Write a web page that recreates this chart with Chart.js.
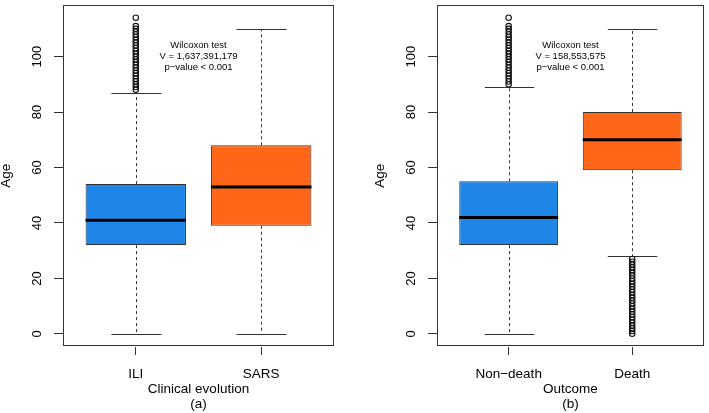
<!DOCTYPE html>
<html>
<head>
<meta charset="utf-8">
<script src="https://cdn.jsdelivr.net/npm/chart.js@4.4.1/dist/chart.umd.min.js"></script>
<style>
    html, body { margin: 0; padding: 0; background: #fff; overflow: hidden; }
    canvas { position: absolute; top: 0; }
    #panelA { left: 0; }
    #panelB { left: 374px; }
</style>
</head>
<body>
<canvas id="panelA" width="374" height="413"></canvas>
<canvas id="panelB" width="335" height="413"></canvas>
<script>
(function () {
    "use strict";

    const FONT = "'Liberation Sans', Arial, Helvetica, sans-serif";
    const BLUE = "#1f86e7";
    const ORANGE = "#ff6618";
    const INK = "#333";

    const yTicks = [0, 20, 40, 60, 80, 100];
    const positions = [1, 2];

    // panel (a) - clinical evolution
    const groupsA = ["ILI", "SARS"];
    const lowerA = [0, 0];
    const q1A = [32, 39];
    const medianA = [41, 53];
    const q3A = [54, 68];
    const upperA = [87, 110];
    const outliersA = [
        [88, 89, 90, 91, 92, 93, 94, 95, 96, 97, 98, 99, 100, 101, 102, 103, 104, 105, 106, 107, 108, 109, 110, 111, 114],
        []
    ];
    const noteA = ["Wilcoxon test", "V = 1,637,391,179", "p\u2212value < 0.001"];

    // panel (b) - outcome
    const groupsB = ["Non\u2212death", "Death"];
    const lowerB = [0, 28];
    const q1B = [32, 59];
    const medianB = [42, 70];
    const q3B = [55, 80];
    const upperB = [89, 110];
    const outliersB = [
        [90, 91, 92, 93, 94, 95, 96, 97, 98, 99, 100, 101, 102, 103, 104, 105, 106, 107, 108, 109, 110, 111, 114],
        [0, 1, 2, 3, 4, 5, 6, 7, 8, 9, 10, 11, 12, 13, 14, 15, 16, 17, 18, 19, 20, 21, 22, 23, 24, 25, 26, 27]
    ];
    const noteB = ["Wilcoxon test", "V = 158,553,575", "p\u2212value < 0.001"];

    const notePos = [1.5, 100];

    function boxExtras(p) {
        return {
            id: "boxExtras",
            beforeDatasetsDraw(chart) {
                const { ctx, scales: { x, y } } = chart;
                const bars = chart.getDatasetMeta(0).data;
                ctx.save();
                ctx.strokeStyle = INK;
                ctx.lineWidth = 1;
                positions.forEach((pos, i) => {
                    const px = Math.round(x.getPixelForValue(pos)) + 0.5;
                    const half = bars[i].width / 4;
                    ctx.setLineDash([3, 3]);
                    ctx.beginPath();
                    ctx.moveTo(px, y.getPixelForValue(p.q3[i]));
                    ctx.lineTo(px, y.getPixelForValue(p.upper[i]));
                    ctx.moveTo(px, y.getPixelForValue(p.q1[i]));
                    ctx.lineTo(px, y.getPixelForValue(p.lower[i]));
                    ctx.stroke();
                    ctx.setLineDash([]);
                    ctx.beginPath();
                    [p.upper[i], p.lower[i]].forEach((v) => {
                        const py = Math.round(y.getPixelForValue(v)) + 0.5;
                        ctx.moveTo(px - half, py);
                        ctx.lineTo(px + half, py);
                    });
                    ctx.stroke();
                });
                ctx.restore();
            },
            afterDatasetsDraw(chart) {
                const { ctx, chartArea: a, scales: { x, y } } = chart;
                const bars = chart.getDatasetMeta(0).data;
                ctx.save();
                // medians
                ctx.strokeStyle = "#000";
                ctx.lineWidth = 3;
                positions.forEach((pos, i) => {
                    const py = y.getPixelForValue(p.median[i]);
                    ctx.beginPath();
                    ctx.moveTo(bars[i].x - bars[i].width / 2, py);
                    ctx.lineTo(bars[i].x + bars[i].width / 2, py);
                    ctx.stroke();
                });
                // frame
                ctx.strokeStyle = INK;
                ctx.lineWidth = 1;
                ctx.strokeRect(Math.round(a.left) + 0.5, Math.round(a.top) + 0.5,
                    Math.round(a.right - a.left) - 1, Math.round(a.bottom - a.top) - 1);
                // rotated y tick labels
                ctx.fillStyle = "#000";
                ctx.font = "13px " + FONT;
                ctx.textAlign = "center";
                ctx.textBaseline = "middle";
                y.ticks.forEach((t) => {
                    ctx.save();
                    ctx.translate(a.left - 25.5, y.getPixelForValue(t.value));
                    ctx.rotate(-Math.PI / 2);
                    ctx.fillText(String(t.value), 0, 0);
                    ctx.restore();
                });
                // test note
                ctx.font = "9.5px " + FONT;
                const nx = x.getPixelForValue(notePos[0]);
                const ny = y.getPixelForValue(notePos[1]);
                p.note.forEach((line, k) => {
                    ctx.fillText(line, nx, ny + (k - 1) * 11);
                });
                ctx.restore();
            }
        };
    }

    function panel(id, p) {
        const ctx = document.getElementById(id).getContext("2d");
        return new Chart(ctx, {
            type: "bar",
            data: {
                datasets: [
                    {
                        type: "bar",
                        data: positions.map((pos, i) => ({ x: pos, y: [p.q1[i], p.q3[i]] })),
                        backgroundColor: [BLUE, ORANGE],
                        borderColor: INK,
                        borderWidth: 1,
                        borderSkipped: false,
                        barPercentage: 0.8,
                        categoryPercentage: 1
                    },
                    {
                        type: "scatter",
                        data: p.outliers.flatMap((list, i) => list.map((v) => ({ x: positions[i], y: v }))),
                        pointRadius: 2.7,
                        pointBorderWidth: 1.1,
                        pointBorderColor: "#111",
                        pointBackgroundColor: "rgba(0,0,0,0)",
                        showLine: false
                    }
                ]
            },
            options: {
                responsive: false,
                animation: false,
                events: [],
                layout: { padding: { left: 0, right: p.padRight, top: 0, bottom: 0 } },
                plugins: {
                    legend: { display: false },
                    tooltip: { enabled: false }
                },
                scales: {
                    x: {
                        type: "linear",
                        min: 0.42,
                        max: 2.58,
                        offset: false,
                        afterBuildTicks: (s) => { s.ticks = positions.map((v) => ({ value: v })); },
                        afterFit: (s) => { s.height = 66.5; },
                        ticks: {
                            callback: (value, index) => p.groups[index],
                            font: { family: FONT, size: 13.5 },
                            color: "#000",
                            padding: 11,
                            maxRotation: 0,
                            autoSkip: false
                        },
                        grid: { drawOnChartArea: false, tickLength: 8.5, color: INK, offset: false },
                        border: { display: false },
                        title: {
                            display: true,
                            text: p.title,
                            color: "#000",
                            font: { family: FONT, size: 13.5, lineHeight: "15px" },
                            padding: { top: 0, bottom: 1.5 }
                        }
                    },
                    y: {
                        type: "linear",
                        min: -4.56,
                        max: 118.56,
                        afterBuildTicks: (s) => { s.ticks = yTicks.map((v) => ({ value: v })); },
                        afterFit: (s) => { s.width = 63; },
                        ticks: { display: false },
                        grid: { drawOnChartArea: false, tickLength: 9, color: INK },
                        border: { display: false },
                        title: {
                            display: true,
                            text: "Age",
                            color: "#000",
                            font: { family: FONT, size: 13.5, lineHeight: 1 },
                            padding: 0
                        }
                    }
                }
            },
            plugins: [boxExtras(p)]
        });
    }

    panel("panelA", {
        groups: groupsA, lower: lowerA, q1: q1A, median: medianA, q3: q3A, upper: upperA,
        outliers: outliersA, note: noteA, title: ["Clinical evolution", "(a)"], padRight: 40
    });
    panel("panelB", {
        groups: groupsB, lower: lowerB, q1: q1B, median: medianB, q3: q3B, upper: upperB,
        outliers: outliersB, note: noteB, title: ["Outcome", "(b)"], padRight: 1
    });
})();
</script>
</body>
</html>
